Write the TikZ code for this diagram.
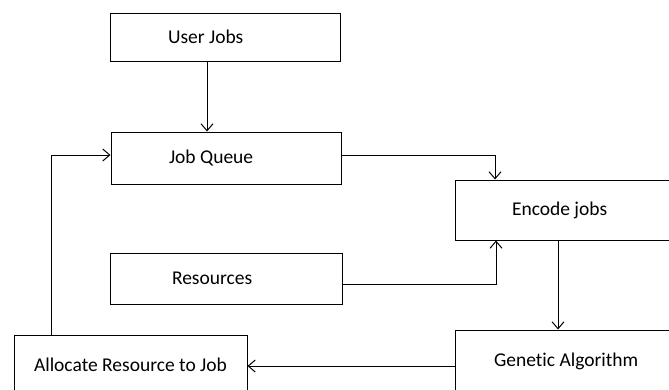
\documentclass[tikz,border=0pt]{standalone}
\usepackage{fontspec}
\setmainfont{Carlito}[Ligatures=CommonOff]
\usepackage{xcolor}
\usepackage{tikz}
\usetikzlibrary{arrows.meta}

\begin{document}
\begin{tikzpicture}[x=1pt,y=-1pt, every node/.style={font=\fontsize{19.5}{23}\selectfont}, box/.style={fill=white,draw,line width=1pt,align=flush left,inner ysep=0pt}, link/.style={color=black,line width=1pt,-{Straight Barb[length=7pt,width=12pt]}}]
					\useasboundingbox (0,0) rectangle (669,389);
					\clip (0,0) rectangle (669,389);
					\coordinate (uj) at (207,0);
					\coordinate (qx) at (495,0);
					\coordinate (rx) at (496,0);
					\coordinate (fb) at (51,0);
					
					\node (userjobs) at (225,37) [box,inner xsep=58pt,text width=114pt,minimum height=48pt] {User Jobs};
					\node (jobqueue) at (226,158) [box,inner xsep=58pt,text width=114pt,minimum height=52pt] {Job Queue};
					\node (resources) at (226,278.5) [box,inner xsep=62pt,text width=108pt,minimum height=51pt] {Resources};
					\node (encode) at (570,210) [box,inner xsep=57pt,text width=116pt,minimum height=60pt] {Encode jobs};
					\node (genetic) at (570,361) [box,inner xsep=39pt,text width=152pt,minimum height=62pt] {Genetic Algorithm};
					\node (allocate) at (130.5,365) [box,inner xsep=20pt,text width=193pt,minimum height=60pt] {Allocate Resource to Job};
					
					\draw[link] (userjobs.south -| uj) to[] (jobqueue.north -| uj);
					\draw[link] ([yshift=3pt]jobqueue.east) -| (encode.north -| qx);
					\draw[link] ([yshift=-5.5pt]resources.east) -| (encode.south -| rx);
					\draw[link] ([xshift=-12pt]encode.south) to[] ([xshift=-12pt]genetic.north);
					\draw[link] ([yshift=-5pt]genetic.west) to[] ([yshift=-1pt]allocate.east);
					\draw[link] (allocate.north -| fb) |- ([yshift=3pt]jobqueue.west);
				\end{tikzpicture}
\end{document}
